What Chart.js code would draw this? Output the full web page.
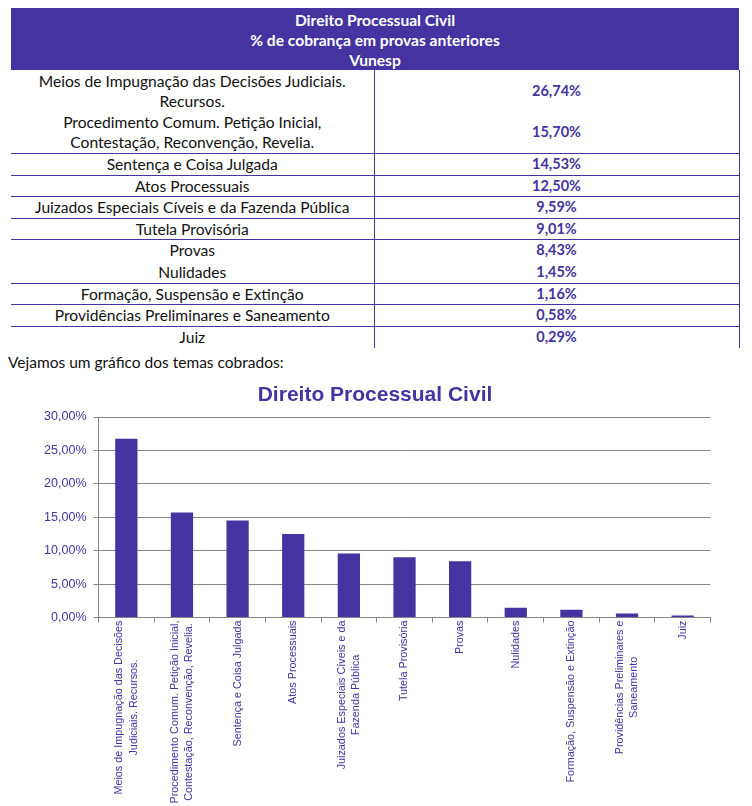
<!DOCTYPE html>
<html>
<head>
<meta charset="utf-8">
<script src="https://cdn.jsdelivr.net/npm/chart.js@4.4.1/dist/chart.umd.min.js"></script>
<style>
  html, body { margin: 0; padding: 0; background: #fff; }
  body { width: 752px; height: 806px; position: relative; overflow: hidden; font-family: Lato, "Open Sans", sans-serif; }
  #tbl { position: absolute; left: 11px; top: 8px; width: 728px; border-collapse: collapse; table-layout: fixed; }
  #tbl th { background: #4433a0; color: #fff; font-weight: bold; font-size: 15.6px; line-height: 20px; height: 60px; padding: 2px 0 0 0; text-align: center; }
  #tbl td { padding: 0; text-align: center; font-size: 15.6px; line-height: 20px; color: #111; }
  #tbl td.v { color: #4433a0; font-weight: bold; font-size: 14.5px; border-left: 1px solid #4433a0; border-right: 1px solid #4433a0; }
  #tbl tr.b td { border-bottom: 1px solid #4433a0; }
  #intro { position: absolute; left: 8px; top: 353px; font-size: 15.5px; line-height: 18px; color: #111; }
  #wrap { position: absolute; left: 0; top: 380px; width: 752px; height: 426px; }
</style>
</head>
<body>
<table id="tbl">
  <colgroup><col style="width:363px"><col style="width:365px"></colgroup>
  <thead><tr><th colspan="2">Direito Processual Civil<br>% de cobrança em provas anteriores<br>Vunesp</th></tr></thead>
  <tbody id="tb"></tbody>
</table>
<div id="intro">Vejamos um gráfico dos temas cobrados:</div>
<div id="wrap"><canvas id="c" width="752" height="426"></canvas></div>
<script>
const tableTopics = [
  "Meios de Impugnação das Decisões Judiciais.<br>Recursos.",
  "Procedimento Comum. Petição Inicial,<br>Contestação, Reconvenção, Revelia.",
  "Sentença e Coisa Julgada",
  "Atos Processuais",
  "Juizados Especiais Cíveis e da Fazenda Pública",
  "Tutela Provisória",
  "Provas",
  "Nulidades",
  "Formação, Suspensão e Extinção",
  "Providências Preliminares e Saneamento",
  "Juiz"
];
const chartLabels = [
  ["Meios de Impugnação das Decisões", "Judiciais. Recursos."],
  ["Procedimento Comum. Petição Inicial,", "Contestação, Reconvenção, Revelia."],
  "Sentença e Coisa Julgada",
  "Atos Processuais",
  ["Juizados Especiais Cíveis e da", "Fazenda Pública"],
  "Tutela Provisória",
  "Provas",
  "Nulidades",
  "Formação, Suspensão e Extinção",
  ["Providências Preliminares e", "Saneamento"],
  "Juiz"
];
const percentages = [26.74, 15.70, 14.53, 12.50, 9.59, 9.01, 8.43, 1.45, 1.16, 0.58, 0.29];
const yTicks = [0, 5, 10, 15, 20, 25, 30];
const rowHeights = [42, 41, 22, 21, 22, 21, 22, 22, 20, 22, 22];
const rowBorders = [false, true, true, true, true, true, false, true, true, true, false];

const fmt = v => v.toFixed(2).replace('.', ',') + '%';
const tb = document.getElementById('tb');
tableTopics.forEach((t, i) => {
  const tr = document.createElement('tr');
  if (rowBorders[i]) tr.className = 'b';
  tr.style.height = rowHeights[i] + 'px';
  tr.innerHTML = '<td>' + t + '</td><td class="v">' + fmt(percentages[i]) + '</td>';
  tb.appendChild(tr);
});

// Center multi-line rotated category labels (Excel-style) on their tick
const centerLabels = {
  id: 'centerLabels',
  beforeDraw(chart) {
    const s = chart.scales.x;
    if (!s || !s.getLabelItems) return;
    const items = s.getLabelItems();
    const ctx = chart.ctx;
    items.forEach(it => {
      if (it._adj || !it.options || !it.options.translation) return;
      const lines = Array.isArray(it.label) ? it.label : [it.label];
      ctx.save();
      ctx.font = it.font.string;
      const w = Math.max(...lines.map(l => ctx.measureText(l).width));
      ctx.restore();
      it.options.textAlign = 'center';
      it.options.translation[1] += w / 2;
      if (lines.length > 1) it.options.translation[0] -= (lines.length - 1) * it.font.lineHeight / 2;
      it._adj = true;
    });
  }
};

const purple = '#4433a0';
const grey = '#868686';
new Chart(document.getElementById('c'), {
  type: 'bar',
  plugins: [centerLabels],
  data: {
    labels: chartLabels,
    datasets: [{ data: percentages, backgroundColor: purple, borderWidth: 0, barPercentage: 0.4, categoryPercentage: 1 }]
  },
  options: {
    responsive: false,
    animation: false,
    layout: { padding: { left: 39.5, right: 41.5, top: 0, bottom: 0 } },
    plugins: {
      legend: { display: false },
      tooltip: { enabled: false },
      title: {
        display: true,
        text: 'Direito Processual Civil',
        color: purple,
        font: { family: '"Liberation Sans", Arial, sans-serif', size: 21, weight: 'bold' },
        padding: { top: 3, bottom: 8.8 }
      }
    },
    scales: {
      x: {
        afterFit: s => { s.height = 188.5; },
        grid: { display: true, drawOnChartArea: false, drawTicks: true, tickLength: 5, color: grey, offset: true },
        border: { display: true, color: grey, width: 1 },
        ticks: {
          minRotation: 90, maxRotation: 90, autoSkip: false, padding: -2,
          color: purple,
          font: { family: '"Liberation Sans", Arial, sans-serif', size: 10.8, lineHeight: 1.35 }
        }
      },
      y: {
        min: 0, max: 30,
        afterFit: s => { s.width = 59; },
        afterBuildTicks: s => { s.ticks = yTicks.map(v => ({ value: v })); },
        grid: { color: grey, drawTicks: true, tickLength: 5 },
        border: { display: true, color: grey, width: 1 },
        ticks: {
          padding: 7,
          color: purple,
          font: { family: '"Liberation Sans", Arial, sans-serif', size: 12.5 },
          callback: v => fmt(v)
        }
      }
    }
  }
});
</script>
</body>
</html>
